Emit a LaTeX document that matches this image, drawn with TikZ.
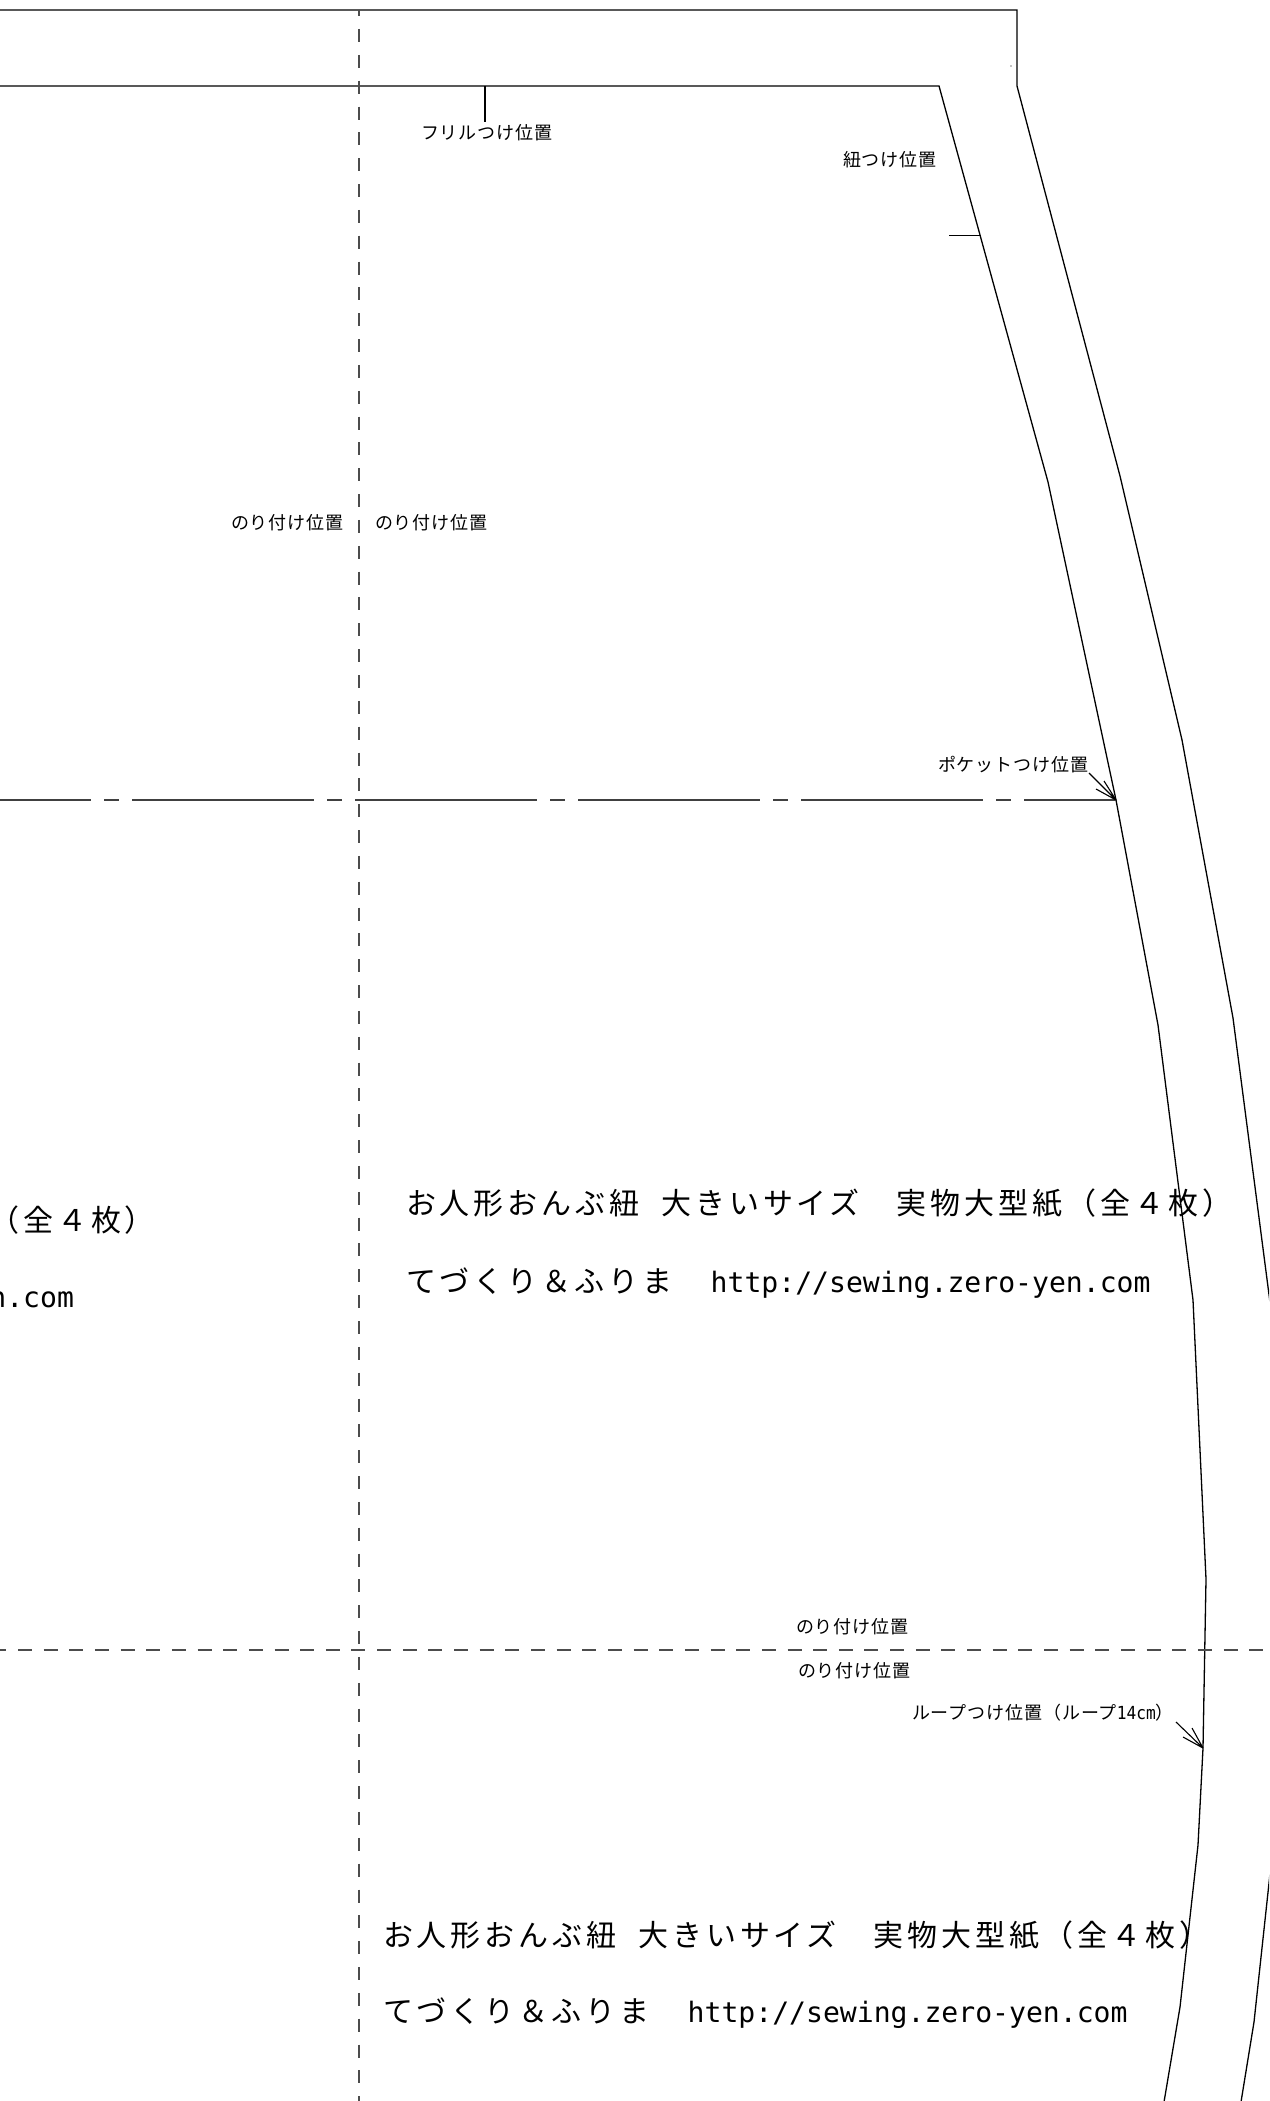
\documentclass[tikz,border=0pt]{standalone}
\usepackage{fontspec}
\setmainfont{Noto Sans CJK JP}
\newfontfamily\bigjp[LetterSpace=13]{Noto Sans CJK JP}
\newfontfamily\smalljp[LetterSpace=5]{Noto Sans CJK JP}
\newfontfamily\lat{DejaVu Sans Mono}
\newfontfamily\latn[FakeStretch=0.9]{DejaVu Sans Mono}
\tikzset{
  cut/.style={line width=1.3pt,black},
  fold/.style={line width=1.3pt,black!70,dash pattern=on 13pt off 12.84pt,dash phase=6.84pt},
  foldh/.style={line width=1.3pt,black!70,dash pattern=on 14pt off 11.65pt},
  pocket/.style={line width=1.3pt,black!75,dash pattern=on 182pt off 13pt on 15pt off 13pt},
  tick/.style={line width=1.1pt,black},
  lab/.style={inner sep=0pt,outer sep=0pt,anchor=west,font=\fontsize{18}{18}\selectfont\smalljp,text=black},
  big/.style={inner sep=0pt,outer sep=0pt,anchor=west,font=\fontsize{30}{30}\selectfont\bigjp,text=black}
}
\newcommand{\titleA}{お人形おんぶ紐\kern 22pt 大きいサイズ\kern 37pt 実物大型紙（全４枚）}
\newcommand{\titleB}{てづくり＆ふりま\kern 38pt{\fontsize{28.1}{28.1}\selectfont\lat http://sewing.zero-yen.com}}
\begin{document}
\begin{tikzpicture}[x=1pt,y=-1pt]
\useasboundingbox (0,0) rectangle (1269,2101);
\clip (0,0) rectangle (1269,2101);
\fill[white] (0,0) rectangle (1269,2101);
% outer cut line
\coordinate (ol) at (-5,10); \coordinate (oc) at (1017,10); \coordinate (o0) at (1017,86);
\coordinate (o1) at (1120,476); \coordinate (o2) at (1182,740); \coordinate (o3) at (1233,1018);
\coordinate (o4) at (1271,1310); \coordinate (o5) at (1284,1579); \coordinate (o6) at (1273,1845);
\coordinate (o7) at (1269,1883); \coordinate (o8) at (1254,2022); \coordinate (o9) at (1240.5,2105);
\draw[cut] (ol)--(oc)--(o0)--(o1)--(o2)--(o3)--(o4)--(o5)--(o6)--(o7)--(o8)--(o9);
% inner cut line
\coordinate (il) at (-5,86); \coordinate (i0) at (939,86); \coordinate (i1) at (1048,482);
\coordinate (i2) at (1116,800); \coordinate (i3) at (1158,1025); \coordinate (i4) at (1193,1300);
\coordinate (i5) at (1206,1579); \coordinate (i6) at (1203,1748); \coordinate (i7) at (1198,1845);
\coordinate (i8) at (1180,2007); \coordinate (i9) at (1163.5,2105);
\draw[cut] (il)--(i0)--(i1)--(i2)--(i3)--(i4)--(i5)--(i6)--(i7)--(i8)--(i9);
% fold lines
\coordinate (vt) at (359,10); \coordinate (vb) at (359,2101);
\draw[fold] (vt)--(vb);
\coordinate (hl) at (-7.65,1650); \coordinate (hr) at (1269,1650);
\draw[foldh] (hl)--(hr);
\coordinate (pl) at (-91,800);
\draw[pocket] (pl)--(i2);
% ticks
\coordinate (t1a) at (485,86); \coordinate (t1b) at (485,122);
\draw[tick] (t1a)--(t1b);
\coordinate (t2a) at (949,235.5); \coordinate (t2b) at (980,235.5);
\draw[tick] (t2a)--(t2b);
\fill (1011,66) circle (0.6pt);
% labels
\node[lab] (frill) at (421,133) {フリルつけ位置};
\node[lab] (himo) at (843,160) {紐つけ位置};
\node[lab] (noriA) at (231,523) {のり付け位置};
\node[lab] (noriB) at (375,523) {のり付け位置};
\node[lab] (pocketl) at (938,765) {ポケットつけ位置};
\node[lab] (noriC) at (796,1627) {のり付け位置};
\node[lab] (noriD) at (798,1671) {のり付け位置};
\node[lab] (loop) at (912,1713) {ループつけ位置（ループ{\fontsize{18}{18}\selectfont\latn 14cm}）};
% arrows
\coordinate (a1s) at (1089,773); \coordinate (a1b) at (1104,781); \coordinate (a1c) at (1096,789);
\draw[tick] (a1s)--(i2) (a1b)--(i2) (a1c)--(i2);
\coordinate (a2s) at (1176,1722); \coordinate (a2b) at (1192,1728); \coordinate (a2c) at (1183,1737);
\draw[tick] (a2s)--(i6) (a2b)--(i6) (a2c)--(i6);
% titles
\node[big] (ta) at (406,1203) {\titleA};
\node[big] (tb) at (406,1283) {\titleB};
\node[big] (tc) at (383,1935) {\titleA};
\node[big] (td) at (383,2013) {\titleB};
\node[big,anchor=east] (te) at (155,1220) {\kern-16pt（全４枚）};
\node[big,anchor=east,font=\fontsize{28.1}{28.1}\selectfont\lat] (tf) at (74,1300) {n.com};
\end{tikzpicture}
\end{document}
